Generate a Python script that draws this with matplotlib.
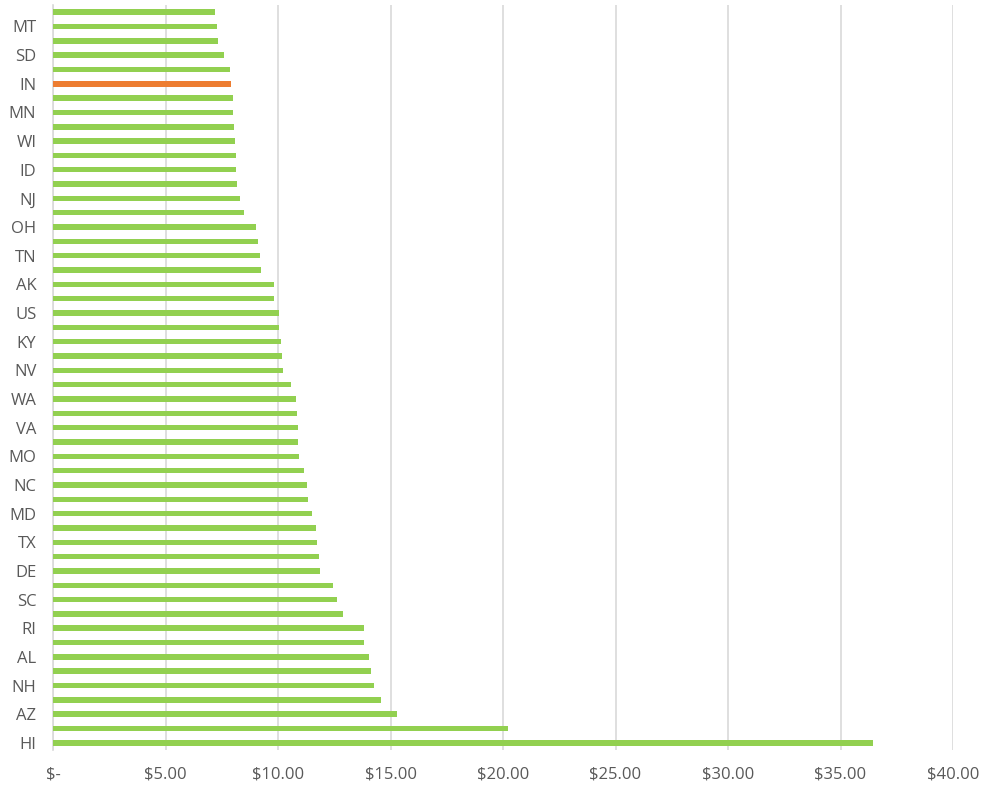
import matplotlib.pyplot as plt
import numpy as np

# states listed top to bottom; every other row carries a label
states = ['', 'MT', '', 'SD', '', 'IN', '', 'MN', '', 'WI', '', 'ID', '', 'NJ',
          '', 'OH', '', 'TN', '', 'AK', '', 'US', '', 'KY', '', 'NV', '', 'WA',
          '', 'VA', '', 'MO', '', 'NC', '', 'MD', '', 'TX', '', 'DE', '', 'SC',
          '', 'RI', '', 'AL', '', 'NH', '', 'AZ', '', 'HI']
values = [7.21, 7.27, 7.34, 7.60, 7.88, 7.91, 8.00, 8.00, 8.06, 8.07, 8.13, 8.14,
          8.20, 8.32, 8.50, 9.03, 9.12, 9.21, 9.26, 9.81, 9.84, 10.04, 10.06, 10.15,
          10.19, 10.24, 10.58, 10.78, 10.84, 10.89, 10.90, 10.95, 11.17, 11.30, 11.32,
          11.53, 11.67, 11.73, 11.84, 11.88, 12.46, 12.63, 12.91, 13.80, 13.83, 14.06,
          14.15, 14.27, 14.57, 15.28, 20.24, 36.43]
highlight = 'IN'

xticks = [0, 5, 10, 15, 20, 25, 30, 35, 40]
xticklabels = ['$-', '$5.00', '$10.00', '$15.00', '$20.00', '$25.00', '$30.00', '$35.00', '$40.00']

plt.rcParams['font.family'] = ['Open Sans', 'DejaVu Sans']

fig = plt.figure(figsize=(9.84, 7.87), dpi=100)
ax = fig.add_axes([53/984, 1-750/787, (953-53)/984, (750-5)/787])

pos = np.arange(len(states))
colors = ['#ED7D31' if s == highlight else '#92D050' for s in states]
ax.barh(pos, values, height=0.38, color=colors, zorder=3)

ax.set_xlim(0, 40)
ax.set_ylim(len(states)-0.5, -0.5)
ax.set_xticks(xticks)
ax.set_xticklabels(xticklabels)
ax.set_yticks(pos)
ax.set_yticklabels(states)
ax.tick_params(axis='both', length=0, labelsize=12, labelcolor='#595959')
ax.tick_params(axis='x', pad=12)
ax.tick_params(axis='y', pad=12)

ax.grid(axis='x', color='#D9D9D9', linewidth=1.2, zorder=0)
for side in ['top', 'right', 'bottom']:
    ax.spines[side].set_visible(False)
ax.spines['left'].set_color('#D9D9D9')
ax.spines['left'].set_linewidth(1.2)

fig.savefig('out.png', dpi=100)
